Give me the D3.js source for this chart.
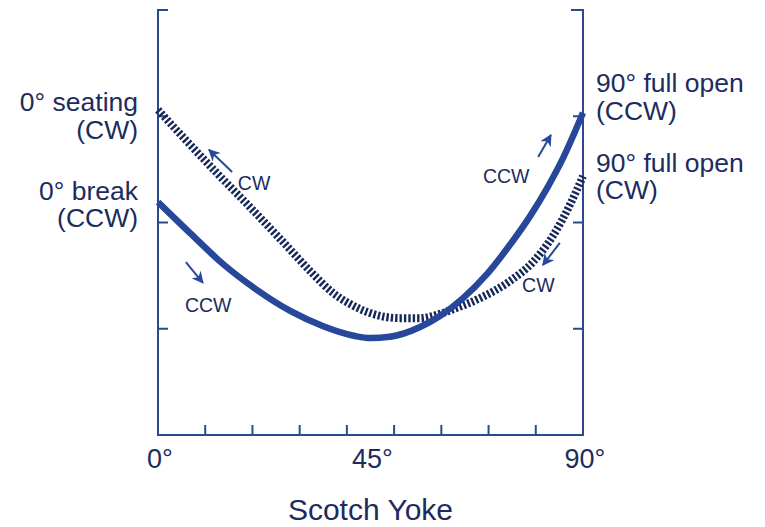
<!DOCTYPE html>
<html>
<head>
<meta charset="utf-8">
<script src="https://cdn.jsdelivr.net/npm/d3@7"></script>
<style>
  body { margin: 0; background: #fff; }
  svg { display: block; font-family: 'Liberation Sans', Arial, sans-serif; }
</style>
</head>
<body>
<svg></svg>
<script>
// valve angle (deg) -> torque-ish value (0..100)
let angles   = [0, 6.8, 13.8, 21.0, 28.0, 35.0, 41.7, 44.9, 49.1, 55.5, 59.7, 64.6, 69.7, 74.5, 78.8, 82.4, 85.8, 90]
let ccwVals  = [54.8, 47.5, 40.2, 34.1, 29.2, 25.6, 23.3, 22.8, 23.1, 25.4, 28.0, 32.2, 37.9, 44.7, 51.5, 58.1, 65.2, 75.8]
let cwAngles = [0, 5.3, 12.5, 19.5, 26.5, 32.2, 37.1, 40.7, 44.9, 51.2, 55.5, 59.7, 62.5, 68.2, 74.5, 79.4, 83.6, 87.2, 90]
let cwVals   = [76.5, 70.1, 61.6, 53.6, 45.4, 38.6, 33.4, 30.8, 28.7, 27.5, 27.5, 28.5, 29.6, 32.2, 36.2, 40.7, 46.8, 54.1, 60.9]
let xTicks = [0, 10, 20, 30, 40, 50, 60, 70, 80, 90]
let xTickLabels = [[0, '0°'], [45, '45°'], [90, '90°']]
let yTicks = [25, 50, 75]

// direction notes: text, x (deg), y (value)
let notes = [
  {text: 'CW',  x: 16.9, y: 57.6},
  {text: 'CCW', x: 5.7,  y: 28.9},
  {text: 'CCW', x: 68.8, y: 59.3},
  {text: 'CW',  x: 77.1, y: 33.6}
]
let arrows = [
  {from: [15.7, 61.9], to: [10.8, 67.1]},
  {from: [5.9, 40.7],  to: [9.5, 35.8]},
  {from: [80.5, 65.4], to: [83.2, 70.6]},
  {from: [85.1, 45.2], to: [81.5, 40.0]}
]
let sideLabels = [
  {lines: ['0° seating', '(CW)'],     side: 'left',  y: 76.2},
  {lines: ['0° break', '(CCW)'],      side: 'left',  y: 55.3},
  {lines: ['90° full open', '(CCW)'], side: 'right', y: 80.7},
  {lines: ['90° full open', '(CW)'],  side: 'right', y: 61.9}
]

let width = 765, height = 527
let axisColor = '#2b4a8e', lineColor = '#27489a', textColor = '#1c2c5e'

let svg = d3.select('svg').attr('width', width).attr('height', height)

let x = d3.scaleLinear().domain([0, 90]).range([158, 583])
let y = d3.scaleLinear().domain([0, 100]).range([435, 10])

let g = svg.append('g')

// frame: left, right, bottom + top caps
g.append('path')
  .attr('d', `M${x(0) + 10},${y(100)} H${x(0)} V${y(0)} H${x(90)} V${y(100)} H${x(90) - 12}`)
  .attr('fill', 'none').attr('stroke', axisColor).attr('stroke-width', 2)

// x ticks (inward)
g.selectAll('.xt').data(xTicks.slice(1, -1)).enter().append('line')
  .attr('x1', d => x(d)).attr('x2', d => x(d))
  .attr('y1', y(0)).attr('y2', y(0) - 10)
  .attr('stroke', axisColor).attr('stroke-width', 2)

// y ticks on both sides (inward)
g.selectAll('.ytl').data(yTicks).enter().append('line')
  .attr('x1', x(0)).attr('x2', x(0) + 10)
  .attr('y1', d => y(d)).attr('y2', d => y(d))
  .attr('stroke', axisColor).attr('stroke-width', 2)
g.selectAll('.ytr').data(yTicks).enter().append('line')
  .attr('x1', x(90)).attr('x2', x(90) - 10)
  .attr('y1', d => y(d)).attr('y2', d => y(d))
  .attr('stroke', axisColor).attr('stroke-width', 2)

// tick labels
g.selectAll('.xl').data(xTickLabels).enter().append('text')
  .attr('x', d => x(d[0]) + 2).attr('y', 468)
  .attr('text-anchor', 'middle')
  .attr('font-size', 27).attr('fill', textColor)
  .text(d => d[1])

g.append('text')
  .attr('x', x(45)).attr('y', 520)
  .attr('text-anchor', 'middle')
  .attr('font-size', 30).attr('fill', textColor)
  .text('Scotch Yoke')

let line = d3.line().x(d => x(d[0])).y(d => y(d[1])).curve(d3.curveMonotoneX)

// CW (dashed) curve
g.append('path')
  .datum(d3.zip(cwAngles, cwVals))
  .attr('d', line)
  .attr('fill', 'none').attr('stroke', '#172859')
  .attr('stroke-width', 8).attr('stroke-dasharray', '2.4,2')

// CCW (solid) curve
g.append('path')
  .datum(d3.zip(angles, ccwVals))
  .attr('d', line)
  .attr('fill', 'none').attr('stroke', lineColor)
  .attr('stroke-width', 6.5).attr('stroke-linecap', 'butt')

// side labels
sideLabels.forEach(l => {
  let t = g.append('text')
    .attr('font-size', 26.5).attr('fill', textColor)
    .attr('text-anchor', l.side == 'left' ? 'end' : 'start')
  l.lines.forEach((s, i) => {
    t.append('tspan')
      .attr('x', l.side == 'left' ? x(0) - 20 : x(90) + 13)
      .attr('y', y(l.y) + i * 27.5)
      .text(s)
  })
})

// CW / CCW notes
g.selectAll('.note').data(notes).enter().append('text')
  .attr('x', d => x(d.x)).attr('y', d => y(d.y))
  .attr('font-size', 19.5).attr('fill', textColor)
  .text(d => d.text)

svg.append('defs').append('marker')
  .attr('id', 'head').attr('viewBox', '0 0 10 10')
  .attr('refX', 9).attr('refY', 5)
  .attr('markerWidth', 6).attr('markerHeight', 6)
  .attr('markerUnits', 'strokeWidth')
  .attr('orient', 'auto')
  .append('path').attr('d', 'M0,0 L10,5 L0,10 L3,5 Z').attr('fill', lineColor)

g.selectAll('.arrow').data(arrows).enter().append('line')
  .attr('x1', d => x(d.from[0])).attr('y1', d => y(d.from[1]))
  .attr('x2', d => x(d.to[0])).attr('y2', d => y(d.to[1]))
  .attr('stroke', lineColor).attr('stroke-width', 2)
  .attr('marker-end', 'url(#head)')
</script>
</body>
</html>
